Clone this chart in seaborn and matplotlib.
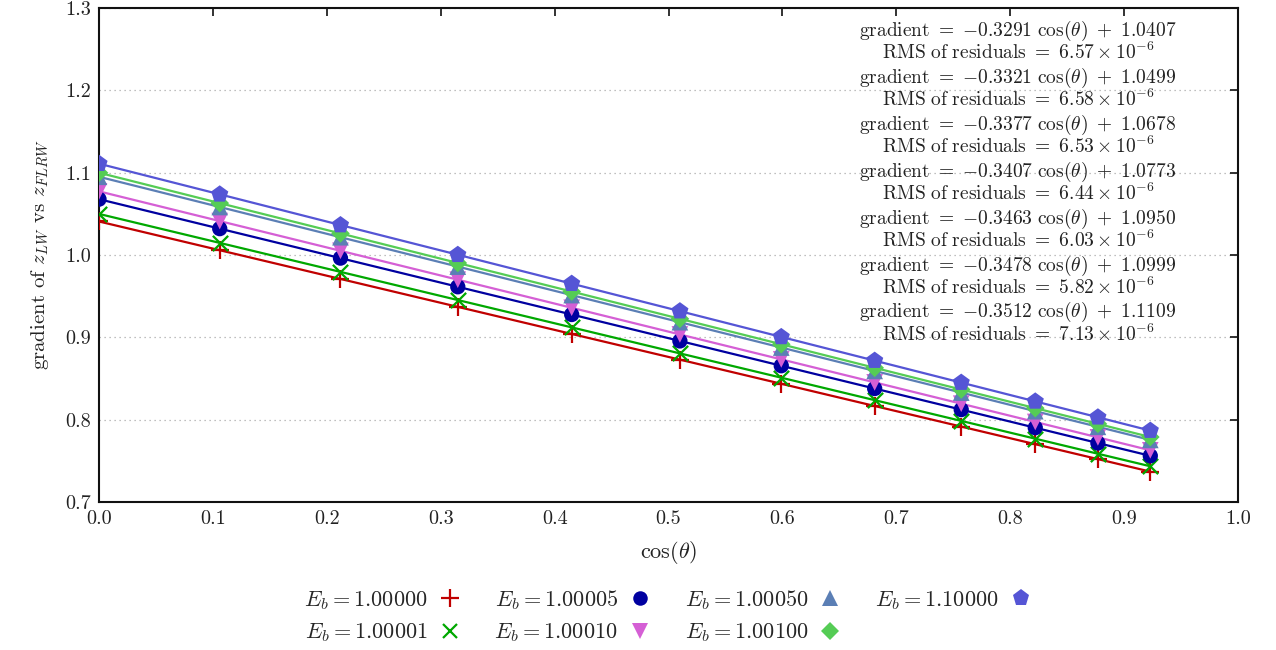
import matplotlib
matplotlib.use("Agg")
import matplotlib.pyplot as plt
import seaborn as sns
import pandas as pd
from matplotlib.lines import Line2D

# ---------------- data ----------------
cos_theta = [0.0, 0.106, 0.212, 0.315, 0.415, 0.510, 0.599, 0.681, 0.757, 0.822, 0.877, 0.923]

eb_labels = ["1.00000", "1.00001", "1.00005", "1.00010", "1.00050", "1.00100", "1.10000"]

grad_100000 = [1.0407, 1.0058, 0.9709, 0.9370, 0.9041, 0.8729, 0.8436, 0.8166, 0.7916, 0.7702, 0.7521, 0.7369]
grad_100001 = [1.0499, 1.0147, 0.9795, 0.9453, 0.9121, 0.8805, 0.8510, 0.8237, 0.7985, 0.7769, 0.7586, 0.7434]
grad_100005 = [1.0678, 1.0320, 0.9962, 0.9614, 0.9277, 0.8956, 0.8655, 0.8378, 0.8122, 0.7902, 0.7716, 0.7561]
grad_100010 = [1.0773, 1.0412, 1.0051, 0.9700, 0.9359, 0.9035, 0.8732, 0.8453, 0.8194, 0.7972, 0.7785, 0.7628]
grad_100050 = [1.0950, 1.0583, 1.0216, 0.9859, 0.9513, 0.9184, 0.8876, 0.8592, 0.8329, 0.8103, 0.7913, 0.7754]
grad_100100 = [1.0999, 1.0630, 1.0262, 0.9903, 0.9556, 0.9225, 0.8916, 0.8630, 0.8366, 0.8140, 0.7949, 0.7789]
grad_110000 = [1.1109, 1.0737, 1.0364, 1.0003, 0.9652, 0.9318, 0.9005, 0.8717, 0.8450, 0.8222, 0.8029, 0.7867]

fit_slopes = ["0.3291", "0.3321", "0.3377", "0.3407", "0.3463", "0.3478", "0.3512"]
fit_intercepts = ["1.0407", "1.0499", "1.0678", "1.0773", "1.0950", "1.0999", "1.1109"]
fit_rms = ["6.57", "6.58", "6.53", "6.44", "6.03", "5.82", "7.13"]

series = [grad_100000, grad_100001, grad_100005, grad_100010, grad_100050, grad_100100, grad_110000]

# ---------------- style ----------------
colors = ["#c00000", "#00a800", "#0000a0", "#d55fd5", "#5b7fb5", "#55cc55", "#5555d5"]
markers = ["+", "x", "o", "v", "^", "D", "p"]
msizes = [13, 11, 11, 12, 12, 9.5, 13]

sns.set_theme(style="white")
plt.rcParams["font.family"] = ["serif"]
plt.rcParams["font.serif"] = ["cmr10", "DejaVu Serif"]
plt.rcParams["mathtext.fontset"] = "cm"
plt.rcParams["axes.formatter.use_mathtext"] = True
plt.rcParams["axes.unicode_minus"] = False

TXT = "#222222"
fig = plt.figure(figsize=(12.76, 6.5), dpi=100)
ax = fig.add_axes([99 / 1276, 1 - 502 / 650, (1238 - 99) / 1276, (502 - 8) / 650])

rows = []
for lab, ys in zip(eb_labels, series):
    for x, y in zip(cos_theta, ys):
        rows.append({"cos": x, "grad": y, "Eb": lab})
df = pd.DataFrame(rows)

for i, lab in enumerate(eb_labels):
    sub = df[df["Eb"] == lab]
    sns.lineplot(data=sub, x="cos", y="grad", color=colors[i], lw=1.6, ax=ax,
                 legend=False, zorder=2)

for i, lab in enumerate(eb_labels):
    sub = df[df["Eb"] == lab]
    filled = markers[i] not in ("+", "x")
    if filled:
        sns.scatterplot(data=sub, x="cos", y="grad", color=colors[i], marker=markers[i],
                        s=msizes[i] ** 2, edgecolor="none", ax=ax, legend=False, zorder=3)
    else:
        sns.scatterplot(data=sub, x="cos", y="grad", color=colors[i], marker=markers[i],
                        s=msizes[i] ** 2, linewidth=1.6, ax=ax, legend=False, zorder=3)

ax.set_xlim(0.0, 1.0)
ax.set_ylim(0.7, 1.3)
ax.set_xticks([0.0, 0.1, 0.2, 0.3, 0.4, 0.5, 0.6, 0.7, 0.8, 0.9, 1.0])
ax.set_yticks([0.7, 0.8, 0.9, 1.0, 1.1, 1.2, 1.3])
ax.set_xticklabels(["0.0", "0.1", "0.2", "0.3", "0.4", "0.5", "0.6", "0.7", "0.8", "0.9", "1.0"])
ax.set_yticklabels(["0.7", "0.8", "0.9", "1.0", "1.1", "1.2", "1.3"])
ax.tick_params(direction="in", length=6, width=1.3, top=True, right=True,
               labelsize=14.5, colors=TXT, pad=6)
for sp in ax.spines.values():
    sp.set_linewidth(1.5)
    sp.set_color("#111111")
ax.yaxis.grid(True, linestyle=(0, (1, 3)), color="#aaaaaa", lw=0.9)
ax.xaxis.grid(False)
ax.set_axisbelow(True)

ax.set_xlabel(r"$\cos(\theta)$", fontsize=16, labelpad=8, color=TXT)
ax.set_ylabel(r"gradient of $z_{LW}$ vs $z_{FLRW}$", fontsize=15, labelpad=10, color=TXT)

# fit annotations, one line each
k = 0
for s, b, r in zip(fit_slopes, fit_intercepts, fit_rms):
    for line in (r"$\mathrm{gradient}\ =\ {-}%s\ \cos(\theta)\ +\ %s$" % (s, b),
                 r"$\mathrm{RMS\ of\ residuals}\ =\ %s\times10^{-6}$" % r):
        ax.text(1018 / 1276, 1 - (36 + 23.45 * k) / 650, line, transform=fig.transFigure,
                ha="center", va="baseline", fontsize=14, color=TXT, zorder=5)
        k += 1

handles = [Line2D([], [], linestyle="none", marker=markers[i], color=colors[i],
                  markersize=msizes[i] * 0.95,
                  markeredgewidth=1.6 if markers[i] in ("+", "x") else 0)
           for i in range(len(eb_labels))]
labels = [r"$E_b = %s$" % l for l in eb_labels]
fig.legend(handles, labels, loc="center", bbox_to_anchor=(668 / 1276, 1 - 616 / 650),
           ncol=4, markerfirst=False, frameon=False, fontsize=16,
           handlelength=1.0, handletextpad=0.5, columnspacing=1.5, labelspacing=0.45)

fig.savefig("out.png", dpi=100)
